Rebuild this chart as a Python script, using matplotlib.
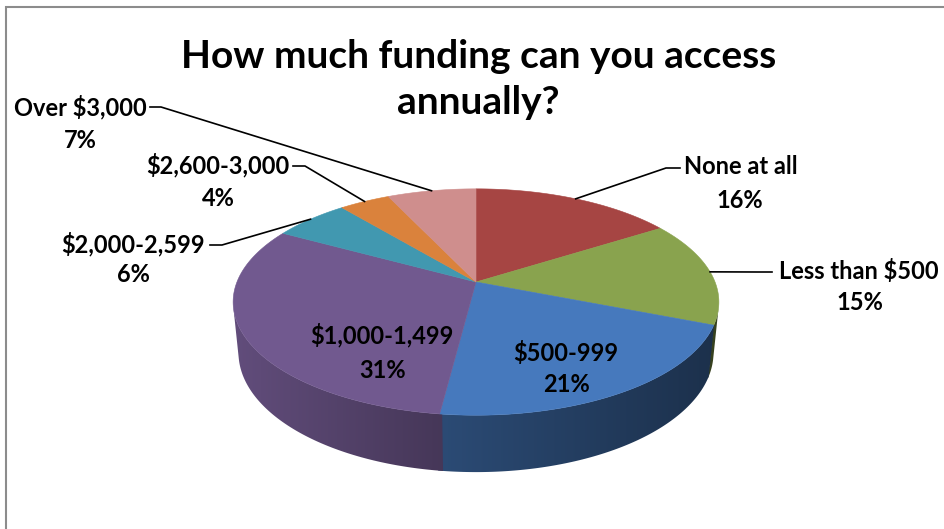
import numpy as np
import matplotlib
matplotlib.use('Agg')
import matplotlib.pyplot as plt
from matplotlib.patches import Polygon

plt.rcParams['font.family'] = ['Lato', 'DejaVu Sans']
plt.rcParams['font.weight'] = 'bold'

labels = ['None at all', 'Less than $500', '$500-999', '$1,000-1,499',
          '$2,000-2,599', '$2,600-3,000', 'Over $3,000']
shares = [16, 15, 21, 31, 6, 4, 7]
colors = ['#A64543', '#89A34E', '#4679BD', '#71598F',
          '#4198B0', '#DA823C', '#CF8E8D']

W, H = 944, 529

# tilted disc seen in perspective (pixel coords, y down)
cx, cy = 476, 282
F = 1200
dist = 5.02
phi = np.radians(27.3)
depth_h = 0.24


def project(t, z=0.0):
    x = np.cos(t)
    y = np.sin(t)
    d = dist + np.cos(phi) * y - z * np.sin(phi)
    yc = y * np.sin(phi) + z * np.cos(phi)
    return cx + F * x / d, cy - F * yc / d


fig = plt.figure(figsize=(W / 100, H / 100), dpi=100)
ax = fig.add_axes([0, 0, 1, 1])
ax.set_xlim(0, W)
ax.set_ylim(H, 0)
ax.axis('off')

# chart frame (left and top edges only show)
ax.plot([6, 6, W], [H, 7, 7], color='#8C8C8C', lw=1.5, solid_joinstyle='miter')

# wedge angles: start at 12 o'clock, go clockwise
total = sum(shares)
ends = 90 - 360 * np.cumsum(shares) / total
starts = np.concatenate([[90], ends[:-1]])
mids = (starts + ends) / 2

# visible part of the outer wall
lim = np.degrees(np.arcsin(1 / (dist * np.cos(phi))))
vis_lo, vis_hi = -180 + lim, -lim
half_w = F / dist

for s, e, col in zip(starts, ends, colors):
    lo, hi = max(e - 0.5, vis_lo), min(s + 0.5, vis_hi)
    if lo >= hi:
        continue
    ts = np.radians(np.linspace(lo, hi, 120))
    xt, yt = project(ts)
    xb, yb = project(ts[::-1], -depth_h)
    outline = list(zip(xt, yt)) + list(zip(xb, yb))
    wall = Polygon(outline, closed=True, fc='none', ec='none', zorder=2)
    ax.add_patch(wall)
    # left-lit wall: darker towards the right
    x0, x1 = min(xt.min(), xb.min()) - 2, max(xt.max(), xb.max()) + 2
    y0, y1 = min(yt.min(), yb.min()) - 2, max(yt.max(), yb.max()) + 2
    xs = np.linspace(x0, x1, 200)
    k = np.interp((xs - cx) / half_w, [-1, -0.15, 1], [0.86, 0.62, 0.40])
    rgb = np.array(matplotlib.colors.to_rgb(col))
    img = np.clip(k[None, :, None] * rgb[None, None, :], 0, 1)
    im = ax.imshow(img, extent=(x0, x1, y1, y0), aspect='auto',
                   interpolation='bilinear', zorder=2)
    im.set_clip_path(wall)

# top faces
for s, e, col in zip(starts, ends, colors):
    ts = np.radians(np.linspace(s, e, 120))
    xs, ys = project(ts)
    pts = [(cx, cy)] + list(zip(xs, ys))
    ax.add_patch(Polygon(pts, closed=True, fc=col, ec=col, lw=0.4, zorder=3))

ax.set_xlim(0, W)
ax.set_ylim(H, 0)

# title
title_fs = 28
ax.text(479, 56, 'How much funding can you access', ha='center', va='center',
        fontsize=title_fs, fontweight='bold', zorder=5)
ax.text(478, 103, 'annually?', ha='center', va='center',
        fontsize=title_fs, fontweight='bold', zorder=5)

lab_fs = 17
pct = [f'{v}%' for v in shares]

# outside labels: name centre, percent centre, leader start and elbow
outside = {
    0: ((741, 167), (740, 200), (680, 168), (666, 168)),
    1: ((859, 271), (860, 303), (772, 272), (757, 272)),
    4: ((133, 244), (133, 275), (210, 245), (222, 245)),
    5: ((218, 165), (218, 198), (293, 166), (305, 166)),
    6: ((80, 107), (80, 140), (150, 107), (161, 107)),
}
for i, (p1, p2, l0, l1) in outside.items():
    ax.text(*p1, labels[i], ha='center', va='center', fontsize=lab_fs,
            fontweight='bold', zorder=5)
    ax.text(*p2, pct[i], ha='center', va='center', fontsize=lab_fs,
            fontweight='bold', zorder=5)
    axp, ayp = project(np.radians(mids[i]))
    ax.plot([l0[0], l1[0], axp], [l0[1], l1[1], ayp], color='black',
            lw=1.2, zorder=4)

# labels sitting on the pie
inside = {
    2: ((566, 353), (566, 384)),
    3: ((382, 335), (383, 370)),
}
for i, (p1, p2) in inside.items():
    ax.text(*p1, labels[i], ha='center', va='center', fontsize=lab_fs,
            fontweight='bold', zorder=5)
    ax.text(*p2, pct[i], ha='center', va='center', fontsize=lab_fs,
            fontweight='bold', zorder=5)

fig.savefig('out.png', dpi=100)
